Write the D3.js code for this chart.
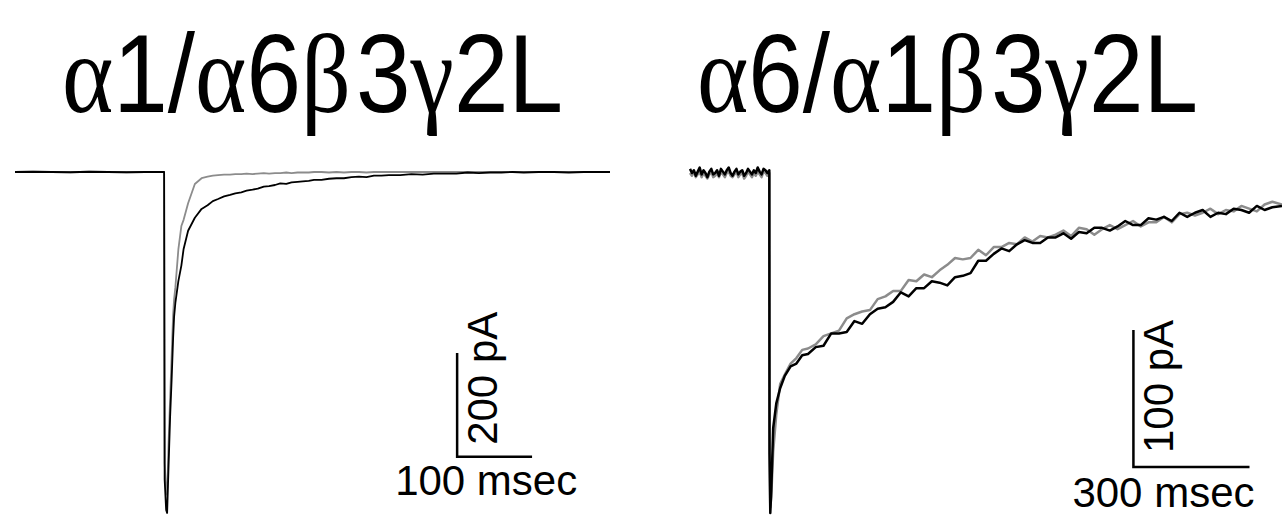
<!DOCTYPE html>
<html>
<head>
<meta charset="utf-8">
<script src="https://cdn.jsdelivr.net/npm/d3@7"></script>
<style>
body { margin: 0; background: #fff; }
</style>
</head>
<body>
<div id="chart"></div>
<script>
// titles of the two panels
var titles = ["\u03b11/\u03b16\u03b23\u03b32L", "\u03b16/\u03b11\u03b23\u03b32L"];
var greek = "\u03b1\u03b2\u03b3";

// left panel: time (ms from onset) and current (pA)
var leftTime = [-199, -175, -150, -125, -100, -75, -50, -25, 0,
	0.7, 2.7, 4, 6, 8, 10, 12, 13.3, 15, 19, 23, 26, 32, 41,
	50, 58, 65, 72, 80, 88, 95, 103, 110, 118, 125, 133, 140, 148, 155, 163, 170, 178, 185, 193, 200,
	210, 220, 230, 240, 250, 260, 270, 280, 290, 300,
	315, 330, 345, 360, 375, 390, 405, 420, 435, 450, 465, 480,
	500, 520, 540, 560, 580, 595];
var leftBlack = [0, 0.5, 0, -0.5, 0.5, 0, -0.5, 0, 0,
	-592, -650, -656, -562, -471, -400, -320, -279, -252, -210, -180, -148, -113, -88,
	-71, -64, -56, -52, -47, -44, -41, -39, -36, -34, -32, -28, -27, -25, -22, -23, -20, -19, -18, -17, -15,
	-15, -13, -12, -12, -10, -9, -10, -7, -7, -6,
	-6, -4, -5, -3, -3, -3, -1, -2, -1, -1, 0, -1,
	0, 0, -1, 0, 0, 0];
var leftGray = [0, 0.5, 0, -0.5, 0.5, 0, -0.5, 0, 0,
	-560, -615, -621, -518, -435, -355, -275, -245, -222, -149, -104, -92, -60, -23,
	-12, -9, -7, -6, -5, -5, -4, -4, -3, -4, -3, -2, -3, -2, -2, -1, -2, -1, -1, -1, 0,
	0, -1, 0, -1, 0, 0, -1, 0, 0, 0,
	0, 0, 0, 0, 0, 0, 0, 0, 0, 0, 0, 0,
	0, 0, 0, 0, 0, 0];

// right panel: time (ms from onset) and current (pA)
var rightTime = [-205, -200, -195, -190, -185, -180, -175, -170, -165, -160, -155, -150, -145, -140,
	-135, -130, -125, -120, -115, -110, -105, -100, -95, -90, -85, -80, -75, -70,
	-65, -60, -55, -50, -45, -40, -35, -30, -25, -20, -15, -10, -5, 0,
	0.5, 2.5, 5, 10, 18, 28, 40, 55, 70, 85, 100,
	120, 140, 160, 180, 200, 220, 240, 260, 280, 300, 320, 340, 360, 380, 400, 420, 440, 460, 480, 500,
	520, 540, 560, 580, 600, 620, 640, 660, 680, 700, 720, 740, 760, 780, 800, 820, 840, 860, 880, 900,
	920, 940, 960, 980, 1000, 1020, 1040, 1060, 1080, 1100, 1120, 1140, 1160, 1180, 1200, 1220, 1240, 1260, 1280, 1300, 1325];
var rightBlack = [3, 0, 2, -2, 1, 4, -1, 2, 0, -3, 1, 3, -1, 0,
	2, -2, 3, 1, -1, 2, 4, 0, -2, 1, 3, -1, 1, 2,
	-2, 0, 3, 1, -1, 2, 0, 4, 1, -1, 3, 2, 0, 2,
	-205, -248, -232, -186, -168, -157, -148, -141, -139, -133, -132,
	-127, -126, -117, -117, -116, -108, -110, -103, -99, -98, -94, -87, -90, -84, -84, -79, -80, -82, -76, -75,
	-73, -64, -64, -59, -55, -57, -52, -49, -51, -51, -47, -47, -44, -48, -43, -44, -40, -40, -42, -39,
	-35, -38, -38, -33, -34, -32, -35, -29, -32, -29, -27, -32, -29, -30, -26, -27, -29, -24, -27, -25, -24];
var rightGray = [0, -2, 1, -3, -1, 1, -3, 0, -2, -4, -1, 1, -3, -2,
	0, -3, 1, -1, -3, 0, 1, -2, -3, -1, 1, -3, -1, 0,
	-4, -2, 1, -1, -3, 0, -2, 1, -1, -3, 1, 0, -2, 0,
	-190, -244, -236, -203, -176, -154, -147, -139, -135, -129, -128,
	-125, -119, -117, -115, -106, -103, -101, -100, -92, -90, -86, -86, -78, -79, -74, -76, -71, -67, -62, -63,
	-62, -56, -60, -54, -54, -51, -52, -47, -50, -46, -47, -45, -42, -46, -40, -41, -45, -41, -38, -41,
	-38, -35, -39, -36, -36, -32, -36, -30, -29, -31, -29, -26, -30, -27, -28, -24, -26, -28, -23, -21, -23];

// scale bars: [current pA, time ms]
var leftBar = [200, 100];
var rightBar = [100, 300];

var width = 1282, height = 515;
var svg = d3.select("#chart").append("svg")
	.attr("width", width)
	.attr("height", height);

function drawTitle(str, x0, w){
	var t = svg.append("text")
		.attr("font-size", 112)
		.attr("fill", "#000");
	str.split("").forEach(function(c){
		var isGreek = greek.indexOf(c) >= 0;
		t.append("tspan")
			.attr("font-family", isGreek ? "Liberation Serif" : "Liberation Sans")
			.attr("dx", c == "3" ? 6 : 0)
			.text(c);
	});
	var box = t.node().getBBox();
	var sx = w / box.width;
	t.attr("transform", "translate(" + (x0 - box.x * sx) + ",112) scale(" + sx + ",1)");
}

drawTitle(titles[0], 62, 501);
drawTitle(titles[1], 697, 501);

function drawPanel(p){
	var x = d3.scaleLinear().domain(p.tDomain).range(p.xRange);
	var y = d3.scaleLinear().domain(p.iDomain).range(p.yRange);
	var line = d3.line()
		.x(function(d){ return x(d[0]); })
		.y(function(d){ return y(d[1]); });

	var g = svg.append("g");
	g.append("path")
		.datum(d3.zip(p.time, p.gray))
		.attr("d", line)
		.attr("fill", "none")
		.attr("stroke", "#8c8c8c")
		.attr("stroke-width", p.lw)
		.attr("stroke-linejoin", "round");
	g.append("path")
		.datum(d3.zip(p.time, p.black))
		.attr("d", line)
		.attr("fill", "none")
		.attr("stroke", "#000")
		.attr("stroke-width", p.lw)
		.attr("stroke-linejoin", "round");

	//scale bar, corner at p.bar0 (time, current)
	var cx = x(p.bar0[0]), cy = y(p.bar0[1]);
	var bx = x(p.bar0[0] + p.bar[1]);
	var by = y(p.bar0[1] + p.bar[0]);
	g.append("path")
		.attr("d", "M" + cx + "," + by + "V" + cy + "H" + bx)
		.attr("fill", "none")
		.attr("stroke", "#000")
		.attr("stroke-width", 2.5);

	g.append("text")
		.attr("transform", "translate(" + (cx + p.vLab[0]) + "," + (cy + p.vLab[1]) + ") rotate(-90)")
		.attr("font-family", "Liberation Sans")
		.attr("font-size", 42)
		.text(p.bar[0] + " pA");
	g.append("text")
		.attr("x", cx + p.hLab[0])
		.attr("y", cy + p.hLab[1])
		.attr("font-family", "Liberation Sans")
		.attr("font-size", 42)
		.text(p.bar[1] + " msec");
}

drawPanel({
	time: leftTime, black: leftBlack, gray: leftGray,
	tDomain: [-199, 595], xRange: [15, 610],
	iDomain: [0, -656], yRange: [172, 513],
	lw: 1.8,
	bar: leftBar, bar0: [391, -548],
	vLab: [40, -12], hLab: [-62, 38]
});

drawPanel({
	time: rightTime, black: rightBlack, gray: rightGray,
	tDomain: [-205, 1325], xRange: [690, 1282],
	iDomain: [0, -248], yRange: [173, 513],
	lw: 2.5,
	bar: rightBar, bar0: [941, -214.5],
	vLab: [40, -14], hLab: [-61, 40]
});
</script>
</body>
</html>
